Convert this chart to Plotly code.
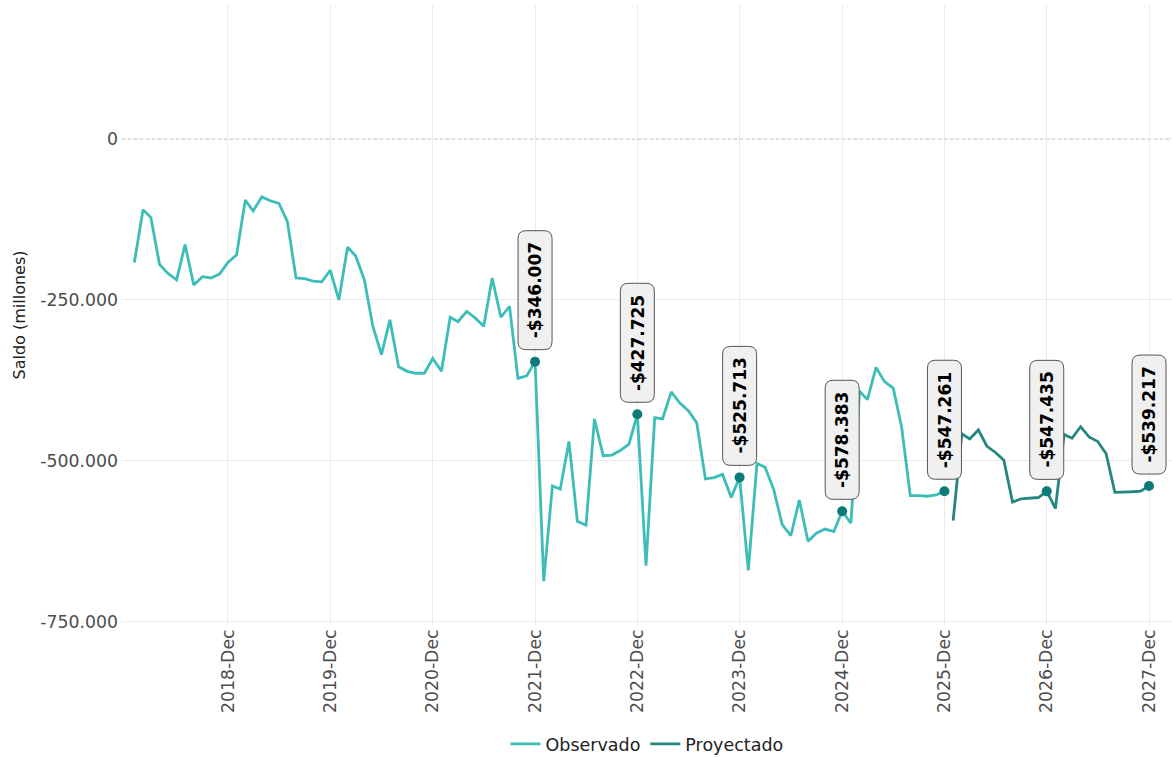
import plotly.graph_objects as go
import pandas as pd

# ---------------- data (millones) ----------------
obs_start = "2018-01-01"
obs_values = [
    # 2018
    -192000, -110000, -122000, -195000, -209000, -219000, -164000, -227000, -214000, -216000, -210000, -192000,
    # 2019
    -180000, -95000, -112000, -90000, -96000, -100000, -128000, -216000, -217000, -221000, -222000, -204000,
    # 2020
    -250000, -168000, -182000, -219000, -291000, -335000, -281000, -354000, -361000, -364000, -364000, -341000,
    # 2021
    -361000, -277000, -284000, -268000, -278000, -291000, -216000, -277000, -260000, -372000, -368000, -346007,
    # 2022
    -687000, -539000, -544000, -470000, -594000, -600000, -435000, -492000, -491000, -484000, -474000, -427725,
    # 2023
    -663000, -433000, -435000, -393000, -410000, -422000, -441000, -528000, -526000, -521000, -557000, -525713,
    # 2024
    -670000, -504000, -510000, -545000, -599000, -616000, -561000, -625000, -612000, -606000, -610000, -578383,
    # 2025
    -597000, -392000, -405000, -355000, -377000, -387000, -447000, -554000, -554000, -555000, -553000, -547261,
]
proj_start = "2026-01-01"
proj_values = [
    # 2026
    -593000, -458000, -466000, -452000, -477000, -487000, -499000, -564000, -559000, -558000, -557000, -547435,
    # 2027
    -574000, -459000, -465000, -447000, -463000, -470000, -489000, -549000, -549000, -548000, -547000, -539217,
]
mark_dates = ["2021-12-01", "2022-12-01", "2023-12-01", "2024-12-01",
              "2025-12-01", "2026-12-01", "2027-12-01"]
mark_values = [-346007, -427725, -525713, -578383, -547261, -547435, -539217]

xtick_dates = ["2018-12-01", "2019-12-01", "2020-12-01", "2021-12-01", "2022-12-01",
               "2023-12-01", "2024-12-01", "2025-12-01", "2026-12-01", "2027-12-01"]
ytick_vals = [0, -250000, -500000, -750000]
ytick_text = ["0", "-250.000", "-500.000", "-750.000"]

# ---------------- styling ----------------
FONT = "DejaVu Sans"
C_OBS = "#3dbdb8"
C_PROJ = "#23877f"
C_MARK = "#0b7a78"

obs_dates = pd.date_range(obs_start, periods=len(obs_values), freq="MS")
proj_dates = pd.date_range(proj_start, periods=len(proj_values), freq="MS")

fig = go.Figure()
fig.add_trace(go.Scatter(x=obs_dates, y=obs_values, mode="lines", name="Observado",
                         line=dict(color=C_OBS, width=2.8)))
fig.add_trace(go.Scatter(x=proj_dates, y=proj_values, mode="lines", name="Proyectado",
                         line=dict(color=C_PROJ, width=2.8)))
fig.add_trace(go.Scatter(x=mark_dates, y=mark_values, mode="markers", showlegend=False,
                         marker=dict(color=C_MARK, size=10)))


def fmt(v):
    s = f"{abs(v):,}".replace(",", ".")
    return ("-$" if v < 0 else "$") + s


# rounded label boxes (pixel sized, anchored at each point)
W, H, B, R = 17, 119, 12, 8
top = B + H
path = (f"M {-W + R},{B} L {W - R},{B} Q {W},{B} {W},{B + R} "
        f"L {W},{top - R} Q {W},{top} {W - R},{top} "
        f"L {-W + R},{top} Q {-W},{top} {-W},{top - R} "
        f"L {-W},{B + R} Q {-W},{B} {-W + R},{B} Z")

shapes = [dict(type="line", xref="paper", x0=0, x1=1, yref="y", y0=0, y1=0,
               line=dict(color="#8a8a8a", width=1, dash="3px,3px"), layer="below")]
annotations = []
for d, v in zip(mark_dates, mark_values):
    shapes.append(dict(type="path", xsizemode="pixel", ysizemode="pixel",
                       xanchor=d, yanchor=v, xref="x", yref="y", path=path,
                       fillcolor="#f0f0f0", line=dict(color="#555555", width=1),
                       layer="above"))
    annotations.append(dict(x=d, y=v, xref="x", yref="y", text="<b>" + fmt(v) + "</b>",
                            showarrow=False, textangle=-90, yshift=B + H / 2,
                            font=dict(family=FONT, size=17, color="#000000")))

TICK = 17.3
fig.update_layout(
    width=1172, height=757,
    margin=dict(l=122, r=0, t=5, b=132),
    paper_bgcolor="white", plot_bgcolor="white",
    font=dict(family=FONT, size=16, color="#4d4d4d"),
    showlegend=True,
    legend=dict(orientation="h", x=0.5, xanchor="center", yref="container",
                y=0.0172, yanchor="middle", itemwidth=30,
                font=dict(family=FONT, size=17.5, color="#222222")),
    shapes=shapes, annotations=annotations,
    hovermode=False,
)
fig.update_xaxes(
    range=["2017-11-18", "2028-02-21"], tickvals=xtick_dates, tickformat="%Y-%b",
    tickangle=-90, showgrid=True, gridcolor="#ebebeb", gridwidth=1, zeroline=False,
    showline=False, ticks="", tickfont=dict(family=FONT, size=TICK, color="#4d4d4d"),
)
fig.update_yaxes(
    range=[-755000, 208000], tickvals=ytick_vals, ticktext=ytick_text,
    showgrid=True, gridcolor="#ebebeb", gridwidth=1, zeroline=False, showline=False,
    ticks="", ticklabelstandoff=3, tickfont=dict(family=FONT, size=TICK, color="#4d4d4d"),
    title=dict(text="Saldo (millones)", font=dict(family=FONT, size=16, color="#222222"),
               standoff=10),
)

fig.write_html("out.html", config={"displayModeBar": False},
               post_script="document.body.style.margin='0';")
